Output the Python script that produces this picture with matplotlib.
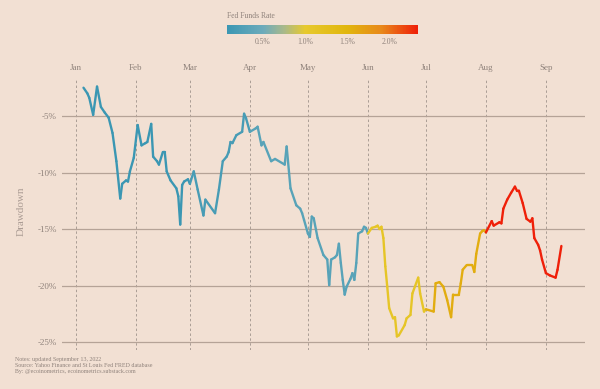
"""
VTI drawdown in 2022, line coloured by the Fed Funds Rate
"""
import pandas as pd
import numpy as np
import matplotlib.pyplot as plt
import matplotlib.dates as mdates
from matplotlib.collections import LineCollection
from matplotlib.colors import LinearSegmentedColormap, Normalize
from matplotlib.cm import ScalarMappable

# Drawdown readings (%)
dates = [
    '2022-01-05', '2022-01-07', '2022-01-08', '2022-01-10', '2022-01-12', '2022-01-14',
    '2022-01-16', '2022-01-18', '2022-01-20', '2022-01-22', '2022-01-24', '2022-01-25',
    '2022-01-27', '2022-01-28', '2022-01-29', '2022-01-31',
    '2022-02-02', '2022-02-04', '2022-02-06', '2022-02-07', '2022-02-09', '2022-02-10',
    '2022-02-12', '2022-02-13', '2022-02-15', '2022-02-16', '2022-02-17', '2022-02-19',
    '2022-02-22', '2022-02-23', '2022-02-24', '2022-02-25', '2022-02-26', '2022-02-28',
    '2022-03-01', '2022-03-03', '2022-03-05', '2022-03-08', '2022-03-09', '2022-03-14',
    '2022-03-16', '2022-03-18', '2022-03-20', '2022-03-21', '2022-03-22', '2022-03-23',
    '2022-03-25', '2022-03-28', '2022-03-29', '2022-03-30',
    '2022-04-01', '2022-04-04', '2022-04-05', '2022-04-07', '2022-04-08', '2022-04-12',
    '2022-04-14', '2022-04-19', '2022-04-20', '2022-04-22', '2022-04-25', '2022-04-27',
    '2022-04-28', '2022-04-29',
    '2022-05-01', '2022-05-02', '2022-05-03', '2022-05-04', '2022-05-06', '2022-05-09',
    '2022-05-11', '2022-05-12', '2022-05-13', '2022-05-15', '2022-05-16', '2022-05-17',
    '2022-05-18', '2022-05-19', '2022-05-20', '2022-05-21', '2022-05-23', '2022-05-24',
    '2022-05-25', '2022-05-26', '2022-05-27', '2022-05-29', '2022-05-30', '2022-05-31',
    '2022-06-01', '2022-06-03', '2022-06-05', '2022-06-06', '2022-06-07', '2022-06-08',
    '2022-06-09', '2022-06-10', '2022-06-11', '2022-06-12', '2022-06-14', '2022-06-15',
    '2022-06-16', '2022-06-17', '2022-06-20', '2022-06-21', '2022-06-23', '2022-06-24',
    '2022-06-27', '2022-06-28', '2022-06-30',
    '2022-07-01', '2022-07-05', '2022-07-06', '2022-07-08', '2022-07-10', '2022-07-12',
    '2022-07-14', '2022-07-15', '2022-07-18', '2022-07-19', '2022-07-20', '2022-07-22',
    '2022-07-25', '2022-07-26', '2022-07-27', '2022-07-29', '2022-07-30', '2022-07-31',
    '2022-08-01', '2022-08-04', '2022-08-05', '2022-08-08', '2022-08-09', '2022-08-10',
    '2022-08-12', '2022-08-14', '2022-08-16', '2022-08-17', '2022-08-18', '2022-08-20',
    '2022-08-22', '2022-08-24', '2022-08-25', '2022-08-26', '2022-08-28', '2022-08-29',
    '2022-08-30',
    '2022-09-01', '2022-09-03', '2022-09-06', '2022-09-07', '2022-09-09',
]
drawdown = [
    -2.5, -3.0, -3.4, -4.9, -2.4, -4.2,
    -4.7, -5.15, -6.5, -9.0, -12.3, -11.0,
    -10.7, -10.8, -9.9, -8.7,
    -5.8, -7.6, -7.4, -7.3, -5.7, -8.6,
    -9.0, -9.3, -8.2, -8.2, -9.9, -10.7,
    -11.4, -12.1, -14.6, -11.1, -10.8, -10.6,
    -11.0, -9.9, -11.5, -13.8, -12.4, -13.6,
    -11.5, -9.0, -8.6, -8.2, -7.3, -7.4,
    -6.7, -6.4, -4.8, -5.2,
    -6.4, -6.1, -5.95, -7.6, -7.3, -9.0,
    -8.8, -9.3, -7.7, -11.4, -12.9, -13.2,
    -13.6, -14.2,
    -15.4, -15.7, -13.9, -14.05, -15.8, -17.3,
    -17.7, -19.96, -17.7, -17.5, -17.3, -16.3,
    -18.0, -19.5, -20.8, -20.1, -19.4, -18.9,
    -19.5, -18.0, -15.4, -15.2, -14.8, -14.9,
    -15.4, -14.9, -14.8, -14.7, -15.0, -14.8,
    -15.8, -18.3, -20.1, -22.0, -22.9, -22.8,
    -24.5, -24.4, -23.5, -22.9, -22.6, -20.7,
    -19.3, -20.7, -22.3,
    -22.1, -22.3, -19.8, -19.7, -20.1, -21.3,
    -22.8, -20.8, -20.8, -19.8, -18.6, -18.2,
    -18.2, -18.8, -17.2, -15.4, -15.2, -15.1,
    -15.3, -14.3, -14.7, -14.4, -14.5, -13.2,
    -12.4, -11.8, -11.25, -11.6, -11.6, -12.7,
    -14.1, -14.35, -14.05, -15.8, -16.4, -16.9,
    -17.7,
    -18.9, -19.1, -19.3, -18.6, -16.5,
]

# Fed Funds Rate (%) by month, as used for the colour
rate_months = [1, 2, 3, 4, 5, 6, 7, 8, 9]
rate_values = [0.08, 0.08, 0.20, 0.33, 0.33, 1.10, 1.58, 2.33, 2.33]

y_ticks = [-5, -10, -15, -20, -25]
cbar_ticks = [0.5, 1.0, 1.5, 2.0]

BG = '#f2e0d3'
TXT = '#8f827b'

plt.rcParams['font.family'] = ['Liberation Serif', 'DejaVu Serif']

df = pd.DataFrame({'date': pd.to_datetime(dates), 'dd': drawdown})
rate_map = dict(zip(rate_months, rate_values))
df['rate'] = df['date'].dt.month.map(rate_map)

cmap = LinearSegmentedColormap.from_list('ffr', [
    (0.00, '#3b97b3'),
    (0.19, '#6dabbb'),
    (0.30, '#a9b98a'),
    (0.41, '#e7c92e'),
    (0.63, '#e1b60d'),
    (0.81, '#e8891a'),
    (1.00, '#ef2009'),
])
norm = Normalize(vmin=min(rate_values), vmax=max(rate_values))

fig = plt.figure(figsize=(6, 3.89), dpi=100, facecolor=BG)
ax = fig.add_axes([0.103, 0.100, 0.872, 0.6995])
ax.set_facecolor(BG)

x = mdates.date2num(df['date'])
pts = np.column_stack([x, df['dd']]).reshape(-1, 1, 2)
segs = np.concatenate([pts[:-1], pts[1:]], axis=1)
lc = LineCollection(segs, colors=cmap(norm(df['rate'].values[:-1])),
                    linewidth=1.7, capstyle='round', joinstyle='round', zorder=3)
ax.add_collection(lc)

ax.set_xlim(mdates.date2num(pd.Timestamp('2021-12-24 19:00')),
            mdates.date2num(pd.Timestamp('2022-09-21 05:00')))
ax.set_ylim(-25.71, -1.64)

# month labels on top, dashed month lines
ax.xaxis.tick_top()
ax.xaxis.set_major_locator(mdates.MonthLocator())
ax.xaxis.set_major_formatter(mdates.DateFormatter('%b'))
ax.tick_params(axis='x', length=0, pad=4.5, labelsize=6.5, colors=TXT)
ax.grid(True, axis='x', color='#aa9d95', linestyle=(0, (2.5, 2.5)), linewidth=0.7)

ax.set_yticks(y_ticks)
ax.set_yticklabels([f'{v}%' for v in y_ticks])
ax.tick_params(axis='y', length=0, pad=3.5, labelsize=6.5, colors=TXT)
ax.grid(True, axis='y', color='#b5a397', linestyle='-', linewidth=0.9)
ax.set_axisbelow(True)
for s in ax.spines.values():
    s.set_visible(False)

fig.text(0.036, 0.456, 'Drawdown', rotation=90, ha='center', va='center',
         fontsize=8, color='#ab9c94')

# colour bar for the rate
cax = fig.add_axes([0.378, 0.913, 0.318, 0.024])
cb = fig.colorbar(ScalarMappable(norm=norm, cmap=cmap), cax=cax,
                  orientation='horizontal', ticks=cbar_ticks)
cb.outline.set_visible(False)
cb.ax.set_xticklabels([f'{t:.1f}%' for t in cbar_ticks])
cax.tick_params(length=0, pad=3, labelsize=5.5, colors=TXT)
cax.text(0.0, 1.45, 'Fed Funds Rate', transform=cax.transAxes, ha='left',
         va='bottom', fontsize=5.5, color=TXT)

notes = ['Notes: updated September 13, 2022',
         'Source: Yahoo Finance and St Louis Fed FRED database',
         'By: @ecoinometrics, ecoinometrics.substack.com']
for i, line in enumerate(notes):
    fig.text(0.025, 0.077 - i * 0.0155, line, ha='left', va='center',
             fontsize=4.3, color=TXT)

plt.savefig('out.png', dpi=100, facecolor=BG)
